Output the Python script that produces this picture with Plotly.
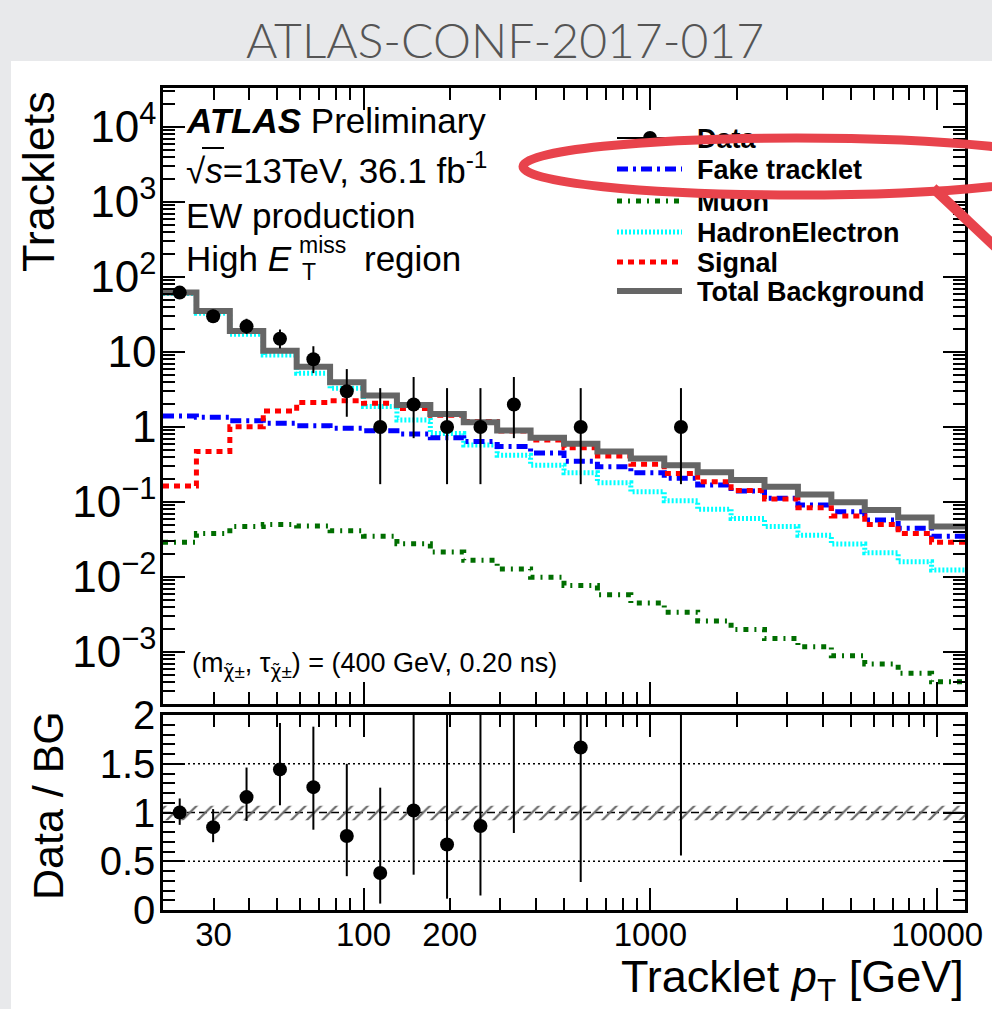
import numpy as np
import plotly.graph_objects as go

# ---- binning (log-uniform, 6 bins per factor 5) ----
bin_edges = [20.0, 26.153, 34.200, 44.721, 58.480, 76.472, 100.0, 130.77, 171.00,
             223.61, 292.40, 382.36, 500.0, 653.83, 855.0, 1118.0, 1462.0, 1911.8,
             2500.0, 3269.2, 4275.0, 5590.2, 7310.0, 9559.0, 12500.0]

# ---- background components and signal (tracklets per bin) ----
fake_tracklet = [1.40, 1.35, 1.21, 1.12, 1.04, 0.96, 0.89, 0.81, 0.72, 0.64, 0.55, 0.45,
                 0.35, 0.296, 0.246, 0.207, 0.169, 0.140, 0.112, 0.091, 0.074, 0.0575,
                 0.0446, 0.035]
muon = [0.029, 0.038, 0.047, 0.050, 0.048, 0.0415, 0.035, 0.0278, 0.0215, 0.0167, 0.0128,
        0.0099, 0.0077, 0.0058, 0.0045, 0.0034, 0.0026, 0.0020, 0.00152, 0.00118, 0.00089,
        0.00069, 0.00052, 0.0004]
hadron_electron = [60.5, 32.8, 17.2, 9.1, 5.2, 3.28, 1.87, 1.24, 0.82, 0.575, 0.42, 0.31,
                   0.245, 0.18, 0.137, 0.104, 0.080, 0.0605, 0.047, 0.036, 0.0275, 0.021,
                   0.016, 0.0124]
signal = [0.163, 0.47, 1.01, 1.63, 2.13, 2.24, 2.07, 1.77, 1.44, 1.18, 0.885, 0.67, 0.53,
          0.41, 0.318, 0.24, 0.187, 0.142, 0.110, 0.084, 0.065, 0.050, 0.038, 0.029]
total_background = [62.0, 35.3, 19.0, 10.4, 6.35, 3.95, 2.63, 1.96, 1.49, 1.16, 0.90, 0.72,
                    0.60, 0.47, 0.38, 0.31, 0.249, 0.196, 0.160, 0.126, 0.099, 0.078,
                    0.062, 0.047]

# ---- observed data with asymmetric Poisson (68% CL) errors ----
data_counts = [62, 30, 22, 15, 8, 3, 1, 2, 1, 1, 2, 0, 1, 0, 0, 1, 0, 0, 0, 0, 0, 0, 0, 0]
data_err_low = [7.85, 5.45, 4.65, 3.83, 2.77, 1.63, 0.827, 1.29, 0.827, 0.827, 1.29, 0,
                0.827, 0, 0, 0.827, 0, 0, 0, 0, 0, 0, 0, 0]
data_err_high = [8.91, 6.53, 5.76, 4.95, 3.94, 2.92, 2.30, 2.64, 2.30, 2.30, 2.64, 0,
                 2.30, 0, 0, 2.30, 0, 0, 0, 0, 0, 0, 0, 0]

# background systematic band in the ratio panel
band_low = 0.92
band_high = 1.07

# ---- axis ticks / labels ----
y_main_ticks = [1e-3, 1e-2, 1e-1, 1, 10, 1e2, 1e3, 1e4]
y_main_labels = ["10<sup>\u22123</sup>", "10<sup>\u22122</sup>", "10<sup>\u22121</sup>",
                 "1", "10", "10<sup>2</sup>", "10<sup>3</sup>", "10<sup>4</sup>"]
ratio_ticks = [0, 0.5, 1, 1.5, 2]
ratio_labels = ["0", "0.5", "1", "1.5", "2"]
x_label_vals = [30, 100, 200, 1000, 10000]
x_label_text = ["30", "100", "200", "1000", "10000"]
x_decades = [100, 1000, 10000]

legend_names = ["Data", "Fake tracklet", "Muon", "HadronElectron", "Signal",
                "Total Background"]

W, H = 992, 1009


def px(x):
    return x / W


def py(y):
    return 1 - y / H


edges = np.array(bin_edges)
centers = np.sqrt(edges[:-1] * edges[1:])
x_minor = [m * 10 ** d for d in range(1, 5) for m in range(2, 10)
           if edges[0] <= m * 10 ** d <= edges[-1]]
y_minor = [m * 10.0 ** d for d in range(-4, 5) for m in range(2, 10)]

FONT = "Liberation Sans, Arial, Helvetica, sans-serif"


def step(vals):
    return list(edges), list(vals) + [vals[-1]]


fig = go.Figure()

# ---- main panel histograms ----
styles = [
    (muon, "#006e00", 5, "5px,6px,2px,6px"),
    (hadron_electron, "#00ffff", 5, "2px,2px"),
    (fake_tracklet, "#0000ff", 5, "11px,5px,3px,5px"),
    (signal, "#ff0000", 5, "6px,5px"),
    (total_background, "#666666", 6, "solid"),
]
for vals, col, wid, dash in styles:
    xs, ys = step(vals)
    fig.add_trace(go.Scatter(x=xs, y=ys, mode="lines", line_shape="hv",
                             line=dict(color=col, width=wid, dash=dash),
                             xaxis="x", yaxis="y", hoverinfo="skip", showlegend=False))

counts = np.array(data_counts, dtype=float)
has = counts > 0
elo = np.array(data_err_low)
ehi = np.array(data_err_high)
fig.add_trace(go.Scatter(
    x=centers[has], y=counts[has], mode="markers",
    marker=dict(color="black", size=14),
    error_y=dict(type="data", symmetric=False, array=ehi[has], arrayminus=elo[has],
                 color="black", thickness=2, width=0),
    xaxis="x", yaxis="y", hoverinfo="skip", showlegend=False))

# ---- ratio panel ----
bkg = np.array(total_background)
xs = list(edges)
fig.add_trace(go.Scatter(x=xs, y=[band_low] * len(xs), mode="lines", line=dict(width=0),
                         xaxis="x2", yaxis="y2", hoverinfo="skip", showlegend=False))
fig.add_trace(go.Scatter(x=xs, y=[band_high] * len(xs), mode="lines", line=dict(width=0),
                         fill="tonexty", fillcolor="rgba(0,0,0,0)",
                         fillpattern=dict(shape="/", fgcolor="#6a6a6a",
                                          bgcolor="rgba(0,0,0,0)", size=11, solidity=0.2),
                         xaxis="x2", yaxis="y2", hoverinfo="skip", showlegend=False))

ratio = counts / bkg
fig.add_trace(go.Scatter(
    x=centers[has], y=ratio[has], mode="markers",
    marker=dict(color="black", size=14),
    error_y=dict(type="data", symmetric=False, array=(ehi / bkg)[has],
                 arrayminus=(elo / bkg)[has], color="black", thickness=2, width=0),
    xaxis="x2", yaxis="y2", hoverinfo="skip", showlegend=False))

# carrier trace for the decade-tick overlay axis
fig.add_trace(go.Scatter(x=[100], y=[1], mode="markers", marker=dict(opacity=0),
                         xaxis="x3", yaxis="y2", hoverinfo="skip", showlegend=False))

# legend entry labels, on a full-page pixel frame so the highlight drawn on top covers them
leg_rows = [138, 169, 201, 232, 262, 291]
fig.add_trace(go.Scatter(x=[697] * len(legend_names), y=[r + 3 for r in leg_rows],
                         text=legend_names, mode="text", textposition="middle right",
                         textfont=dict(family=FONT, size=27, color="black", weight="bold"),
                         cliponaxis=False, xaxis="x4", yaxis="y4", hoverinfo="skip",
                         showlegend=False))

xdom = [px(163), px(965)]
xrange_log = [np.log10(edges[0]), np.log10(edges[-1])]
axis_common = dict(showline=True, linecolor="black", linewidth=2.5, mirror="ticks",
                   ticks="inside", tickcolor="black", tickwidth=2, showgrid=False,
                   zeroline=False, automargin=False)

fig.update_layout(
    template="none",
    width=W, height=H, autosize=False,
    margin=dict(l=0, r=0, t=0, b=0, pad=0, autoexpand=False),
    paper_bgcolor="#e8e9eb", plot_bgcolor="rgba(0,0,0,0)",
    font=dict(family=FONT, color="black"),
    xaxis=dict(domain=xdom, type="log", range=xrange_log, anchor="y",
               tickvals=x_decades, showticklabels=False, ticklen=22,
               minor=dict(ticks="inside", ticklen=12, tickwidth=2, tickcolor="black",
                          tickmode="array", tickvals=x_minor),
               **axis_common),
    yaxis=dict(domain=[py(704), py(88)], type="log", range=[-3.693, 4.52], anchor="x",
               tickvals=y_main_ticks, ticktext=y_main_labels, ticklen=22,
               tickfont=dict(size=44), ticklabelstandoff=-5,
               minor=dict(ticks="inside", ticklen=12, tickwidth=2, tickcolor="black",
                          tickmode="array", tickvals=y_minor),
               **axis_common),
    xaxis2=dict(domain=xdom, type="log", range=xrange_log, anchor="y2",
                tickvals=x_label_vals, ticktext=x_label_text, ticklen=12,
                tickfont=dict(size=33), ticklabelstandoff=-6,
                minor=dict(ticks="inside", ticklen=12, tickwidth=2, tickcolor="black",
                           tickmode="array",
                           tickvals=[v for v in x_minor if v not in x_label_vals]),
                **axis_common),
    xaxis3=dict(type="log", range=xrange_log, overlaying="x2", anchor="y2",
                tickvals=x_decades, showticklabels=False, ticks="inside", ticklen=22,
                tickwidth=2, tickcolor="black", mirror="ticks", showline=False,
                showgrid=False, zeroline=False, automargin=False),
    yaxis2=dict(domain=[py(910), py(715)], range=[0, 2], anchor="x2",
                tickvals=ratio_ticks, ticktext=ratio_labels, ticklen=22,
                tickfont=dict(size=40), ticklabelstandoff=-3,
                minor=dict(ticks="inside", ticklen=12, tickwidth=2, tickcolor="black",
                           dtick=0.1),
                **axis_common),
    xaxis4=dict(domain=[0, 1], range=[0, W], anchor="y4", visible=False, fixedrange=True),
    yaxis4=dict(domain=[0, 1], range=[H, 0], anchor="x4", visible=False, fixedrange=True),
)

shapes = []
# white figure card on the slide background
shapes.append(dict(type="rect", xref="paper", yref="paper", x0=px(11), x1=1.01,
                   y0=-0.01, y1=py(61), fillcolor="white", line=dict(width=0),
                   layer="below"))
# ratio reference lines
for yv, dash in [(0.5, "2px,3px"), (1.5, "2px,3px"), (1.0, "8px,4px")]:
    shapes.append(dict(type="line", xref="x2 domain", yref="y2", x0=0, x1=1, y0=yv, y1=yv,
                       line=dict(color="black", width=1.5, dash=dash), layer="below"))
# overbar of the square root
shapes.append(dict(type="line", xref="paper", yref="paper", x0=px(202), x1=px(224),
                   y0=py(148), y1=py(148), line=dict(color="black", width=2)))

# legend glyphs
leg_x0, leg_x1 = px(617), px(682)
shapes.append(dict(type="line", xref="paper", yref="paper", x0=leg_x0, x1=leg_x1,
                   y0=py(leg_rows[0]), y1=py(leg_rows[0]), line=dict(color="black", width=2)))
shapes.append(dict(type="circle", xref="paper", yref="paper", x0=px(643), x1=px(657),
                   y0=py(leg_rows[0] + 7), y1=py(leg_rows[0] - 7), fillcolor="black",
                   line=dict(width=0)))
for row, (col, wid, dash) in zip(leg_rows[1:], [("#0000ff", 5, "11px,5px,3px,5px"),
                                                 ("#006e00", 5, "5px,6px,2px,6px"),
                                                 ("#00ffff", 5, "2px,2px"),
                                                 ("#ff0000", 5, "6px,5px"),
                                                 ("#666666", 6, "solid")]):
    shapes.append(dict(type="line", xref="paper", yref="paper", x0=leg_x0, x1=leg_x1,
                       y0=py(row), y1=py(row), line=dict(color=col, width=wid, dash=dash)))

# red highlight ellipse and pointer stroke
RED = "#e8434c"
shapes.append(dict(type="circle", xref="paper", yref="paper", x0=px(523), x1=px(1070),
                   y0=py(195), y1=py(138), line=dict(color=RED, width=9),
                   fillcolor="rgba(0,0,0,0)", layer="above"))
shapes.append(dict(type="line", xref="paper", yref="paper", x0=px(933), y0=py(188),
                   x1=px(1005), y1=py(256), line=dict(color=RED, width=10), layer="above"))

fig.update_layout(shapes=shapes)

annotations = []


def text(t, x, y, size, xanchor="left", yanchor="middle", **kw):
    annotations.append(dict(text=t, x=px(x), y=py(y), xref="paper", yref="paper",
                            xanchor=xanchor, yanchor=yanchor, showarrow=False,
                            font=dict(size=size, family=kw.pop("family", FONT),
                                      color=kw.pop("color", "black"),
                                      **kw.pop("fontkw", {})), **kw))


text("ATLAS-CONF-2017-017", 505, 40, 48, xanchor="center", family="Lato", color="#555555",
     fontkw=dict(weight=300))
text("<b><i>ATLAS</i></b> Preliminary", 184, 121, 35)
text("\u221a<i>s</i>=13TeV, 36.1 fb<sup>-1</sup>", 184, 168, 35)
text("EW production", 184, 215, 35)
text("High <i>E</i>", 184, 259, 35)
text("miss", 297, 245, 23)
text("T", 300, 272, 23)
text("region", 362, 259, 35)
chi = '<span style="font-family:DejaVu Sans">\u03c7\u0303</span>'
text("(m<sub>%s\u00b1</sub>, \u03c4<sub>%s\u00b1</sub>) = (400 GeV, 0.20 ns)" % (chi, chi),
     190, 665, 27)

# axis titles
text("Tracklets", 38, 182, 45, xanchor="center", textangle=-90)
text("Data / BG", 48, 806, 43, xanchor="center", textangle=-90)
text("Tracklet <i>p</i><sub>T</sub> [GeV]", 966, 979, 45, xanchor="right")

fig.update_layout(annotations=annotations)
fig.write_html("out.html")
